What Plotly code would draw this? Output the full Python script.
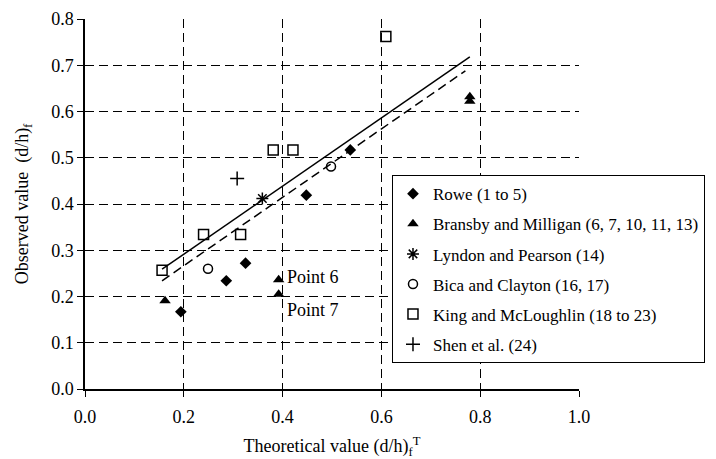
import plotly.graph_objects as go

# Data
rowe_x = [0.194, 0.286, 0.325, 0.448, 0.537]
rowe_y = [0.167, 0.234, 0.272, 0.419, 0.517]

bransby_x = [0.162, 0.392, 0.392, 0.779, 0.779]
bransby_y = [0.191, 0.236, 0.205, 0.632, 0.622]

lyndon_x = [0.359]
lyndon_y = [0.412]

bica_x = [0.249, 0.498]
bica_y = [0.260, 0.481]

king_x = [0.156, 0.240, 0.315, 0.381, 0.421, 0.609]
king_y = [0.257, 0.334, 0.334, 0.517, 0.517, 0.762]

shen_x = [0.308]
shen_y = [0.455]

fit_solid_x = [0.156, 0.779]
fit_solid_y = [0.259, 0.718]
fit_dash_x = [0.156, 0.770]
fit_dash_y = [0.234, 0.688]

x_ticks = [0.0, 0.2, 0.4, 0.6, 0.8, 1.0]
y_ticks = [0.0, 0.1, 0.2, 0.3, 0.4, 0.5, 0.6, 0.7, 0.8]

FONT = "Liberation Serif, Times New Roman, serif"
FS_TICK = 18
FS_TITLE = 18
FS_LEG = 17

fig = go.Figure()

fig.add_trace(go.Scatter(x=fit_solid_x, y=fit_solid_y, mode="lines",
                         line=dict(color="black", width=1.5), showlegend=False,
                         hoverinfo="skip"))
fig.add_trace(go.Scatter(x=fit_dash_x, y=fit_dash_y, mode="lines",
                         line=dict(color="black", width=1.5, dash="9px,5px"),
                         showlegend=False, hoverinfo="skip"))

series = [
    ("Rowe (1 to 5)", rowe_x, rowe_y, dict(symbol="diamond", size=9, color="black")),
    ("Bransby and Milligan (6, 7, 10, 11, 13)", bransby_x, bransby_y,
     dict(symbol="triangle-up", size=10, color="black")),
    ("Lyndon and Pearson (14)", lyndon_x, lyndon_y,
     dict(symbol="asterisk-open", size=10, color="black", line=dict(color="black", width=1.5))),
    ("Bica and Clayton (16, 17)", bica_x, bica_y,
     dict(symbol="circle-open", size=9, color="black", line=dict(color="black", width=1.5))),
    ("King and McLoughlin (18 to 23)", king_x, king_y,
     dict(symbol="square-open", size=10, color="black", line=dict(color="black", width=1.5))),
    ("Shen et al. (24)", shen_x, shen_y,
     dict(symbol="cross-thin-open", size=10, color="black", line=dict(color="black", width=1.5))),
]
for i, (name, xs, ys, mk) in enumerate(series):
    fig.add_trace(go.Scatter(x=xs, y=ys, mode="markers", name=name, marker=mk,
                             legendgroup=f"g{i}"))

fig.add_annotation(x=0.392, y=0.243, xanchor="left", yanchor="middle", xshift=6,
                   text="Point 6", showarrow=False,
                   font=dict(family=FONT, size=FS_TITLE, color="black"))
fig.add_annotation(x=0.392, y=0.171, xanchor="left", yanchor="middle", xshift=6,
                   text="Point 7", showarrow=False,
                   font=dict(family=FONT, size=FS_TITLE, color="black"))

axis_common = dict(
    showline=True, linecolor="black", linewidth=1.5,
    showgrid=True, gridcolor="black", gridwidth=1, griddash="9px,5px",
    ticks="outside", ticklen=6, tickcolor="black", tickwidth=1,
    tickfont=dict(family=FONT, size=FS_TICK, color="black"),
    zeroline=False,
    tickformat=".1f",
    automargin=False,
)

fig.update_xaxes(range=[0, 1.0], tickvals=x_ticks, **axis_common,
                 ticklabelstandoff=5,
                 title=dict(text="Theoretical value (d/h)<sub>f</sub><sup>T</sup>",
                            font=dict(family=FONT, size=FS_TITLE, color="black"), standoff=15))
fig.update_yaxes(range=[0, 0.8], tickvals=y_ticks, **axis_common,
                 title=dict(text="Observed value  (d/h)<sub>f</sub>",
                            font=dict(family=FONT, size=FS_TITLE, color="black"), standoff=18))

fig.update_layout(
    width=716, height=459,
    margin=dict(l=85, r=136, t=19, b=70),
    plot_bgcolor="white", paper_bgcolor="white",
    font=dict(family=FONT, size=FS_TICK, color="black"),
    legend=dict(x=1.2525, y=0.578, xanchor="right", yanchor="top",
                bgcolor="white", bordercolor="black", borderwidth=1,
                font=dict(family=FONT, size=FS_LEG, color="black"),
                tracegroupgap=5, traceorder="grouped", itemwidth=30),
)

fig.write_html("out.html")
